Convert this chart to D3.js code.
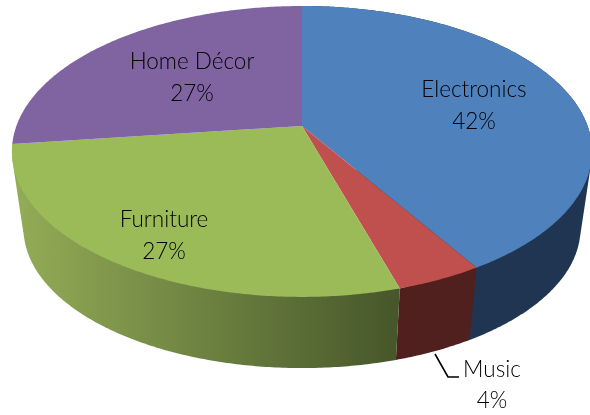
<!DOCTYPE html>
<html><head><meta charset="utf-8">
<script src="https://cdn.jsdelivr.net/npm/d3@7"></script>
<style>html,body{margin:0;background:#fff}svg{display:block}</style></head>
<body><svg id="c" width="590" height="415"></svg>
<script>
const categories = ["Electronics","Music","Furniture","Home Décor"];
const values = [41.3,4.1,27.6,27.0];
const percentLabels = ["42%","4%","27%","27%"];
const topColors = ["#4f81bd","#c0504d","#9bbb59","#8064a2"];
const sideStops = [["#1f3552","#1f3552"],["#4f201e","#4f201e"],["#94ad57","#46562a"],["#5a4672","#5a4672"]];

const cx=302,cy=126,R=285.6,S=141,k=0.175;
const lowerDy=78,lowerScale=0.96;
const svg=d3.select("#c");
const defs=svg.append("defs");
defs.append("filter").attr("id","soft").append("feGaussianBlur").attr("stdDeviation",0.4);
const pie=d3.pie().sort(null).value(d=>d);
const arcs=pie(values);

function project(a,lower){
  const u=Math.sin(a),v=-Math.cos(a),d=1-k*v;
  const s=lower?lowerScale:1, oy=lower?lowerDy:0;
  return [cx+s*R*u/d, cy+oy+s*S*v/d];
}
function arcPts(a0,a1,lower){
  const n=Math.max(2,Math.ceil((a1-a0)/0.01)),out=[];
  d3.range(n+1).forEach(i=>out.push(project(a0+(a1-a0)*i/n,lower)));
  return out;
}
const line=d3.line();

// side walls: only slices that reach the viewer-facing half
arcs.forEach((d,i)=>{
  if(d.startAngle>Math.PI*1.4) return;
  const hull=d3.polygonHull(arcPts(d.startAngle,d.endAngle,false).concat(arcPts(d.startAngle,d.endAngle,true)));
  const xs=hull.map(p=>p[0]);
  const g=defs.append("linearGradient").attr("id","side"+i).attr("gradientUnits","userSpaceOnUse")
    .attr("x1",d3.min(xs)).attr("x2",d3.max(xs)).attr("y1",0).attr("y2",0);
  g.append("stop").attr("offset",0).attr("stop-color",sideStops[i][0]);
  g.append("stop").attr("offset",1).attr("stop-color",sideStops[i][1]);
  svg.append("path").attr("d",line(hull)+"Z").attr("fill","url(#side"+i+")");
});
// top faces
arcs.forEach((d,i)=>{
  const pts=[[cx,cy]].concat(arcPts(d.startAngle,d.endAngle,false));
  svg.append("path").attr("d",line(pts)+"Z").attr("fill",topColors[i]);
});
const ink=svg.append("g").attr("filter","url(#soft)");
// leader line
ink.append("path").attr("d",line([[435,354],[448,377],[459,377]]))
  .attr("fill","none").attr("stroke","#000").attr("stroke-width",1.6);
// labels
const labelPos=[[474,97,129],[492,377,408],[164,227,259],[192,69,101]];
categories.forEach((c,i)=>{
  const [x,y1,y2]=labelPos[i];
  ink.append("text").attr("x",x).attr("y",y1).text(c);
  ink.append("text").attr("x",x).attr("y",y2).text(percentLabels[i]);
});
ink.selectAll("text").attr("text-anchor","middle").attr("fill","#000")
  .attr("font-family","Lato, 'Open Sans', sans-serif").attr("font-size",22.5).attr("font-weight",300);
</script></body></html>
